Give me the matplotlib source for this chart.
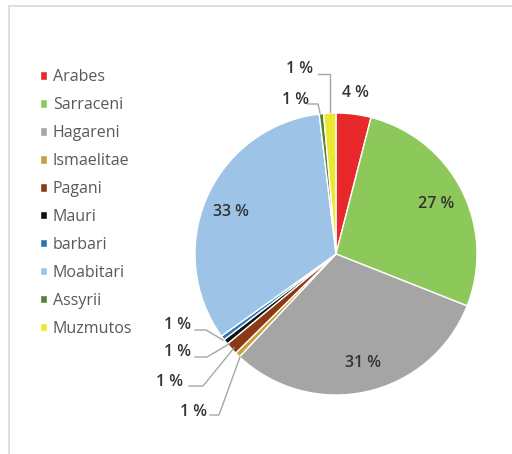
import matplotlib
matplotlib.use("Agg")
import matplotlib.pyplot as plt
from matplotlib.lines import Line2D

names = ["Arabes", "Sarraceni", "Hagareni", "Ismaelitae", "Pagani", "Mauri",
         "barbari", "Moabitari", "Assyrii", "Muzmutos"]
values = [4.0, 27.0, 31.0, 0.6, 1.4, 0.6, 0.5, 33.0, 0.5, 1.4]
labels = ["4 %", "27 %", "31 %", "1 %", "1 %", "1 %", "1 %", "33 %", "1 %", "1 %"]
colors = ["#e8282b", "#8cc95a", "#a5a5a5", "#c9a03e", "#8b3a16", "#111111",
          "#2e74b5", "#9dc3e6", "#548235", "#ece732"]

W, H = 512, 454
fig = plt.figure(figsize=(W / 100, H / 100), dpi=100)
fig.patch.set_facecolor("white")

cx, cy, R = 336, 254, 141
ax = fig.add_axes([(cx - R) / W, (H - cy - R) / H, 2 * R / W, 2 * R / H])
wedges, _ = ax.pie(values, colors=colors, startangle=90, counterclock=False,
                   radius=1, wedgeprops=dict(edgecolor="white", linewidth=1.0))
ax.set_xlim(-1, 1)
ax.set_ylim(-1, 1)
ax.set_aspect("equal")
ax.axis("off")

def d(px, py):
    return ((px - cx) / R, (cy - py) / R)

txt = dict(fontsize=11.5, color="#333333", ha="center", va="center",
           family=["Open Sans", "DejaVu Sans"], fontweight="semibold")
big_pos = {0: (355, 93), 1: (436, 204), 2: (363, 363), 7: (231, 212)}
for i, (px, py) in big_pos.items():
    x, y = d(px, py)
    ax.text(x, y, labels[i], clip_on=False, **txt)

small = {
    9: ((300, 69), [(318, 74), (330, 74), (330, 112)]),
    8: ((295, 100), [(308, 104), (318, 104), (320, 113)]),
    6: ((177, 325), [(195, 330), (206, 330), (223, 340)]),
    5: ((177, 352), [(195, 357), (207, 357), (229, 344)]),
    4: ((170, 382), [(189, 386), (203, 386), (234, 348)]),
    3: ((193, 412), [(210, 415), (219, 415), (240, 357)]),
}
for i, ((px, py), pts) in small.items():
    x, y = d(px, py)
    ax.text(x, y, labels[i], clip_on=False, **txt)
    xs = [d(p[0], p[1])[0] for p in pts]
    ys = [d(p[0], p[1])[1] for p in pts]
    ax.add_line(Line2D(xs, ys, color="#a6a6a6", linewidth=1.0, clip_on=False))

leg = fig.legend(wedges, names, loc="upper left",
                 bbox_to_anchor=(32 / W, 1 - 61 / H), frameon=False,
                 prop=dict(family=["Open Sans", "DejaVu Sans"], size=11.5),
                 handlelength=0.45, handleheight=0.45, handletextpad=0.35,
                 labelspacing=0.75, borderpad=0)
for t in leg.get_texts():
    t.set_color("#595959")

fig.add_artist(Line2D([9 / W, 1], [1 - 6 / H, 1 - 6 / H], color="#d9d9d9",
                      linewidth=1.2, transform=fig.transFigure))
fig.add_artist(Line2D([9 / W, 9 / W], [0, 1 - 6 / H], color="#d9d9d9",
                      linewidth=1.2, transform=fig.transFigure))

fig.savefig("out.png", dpi=100, facecolor="white")
